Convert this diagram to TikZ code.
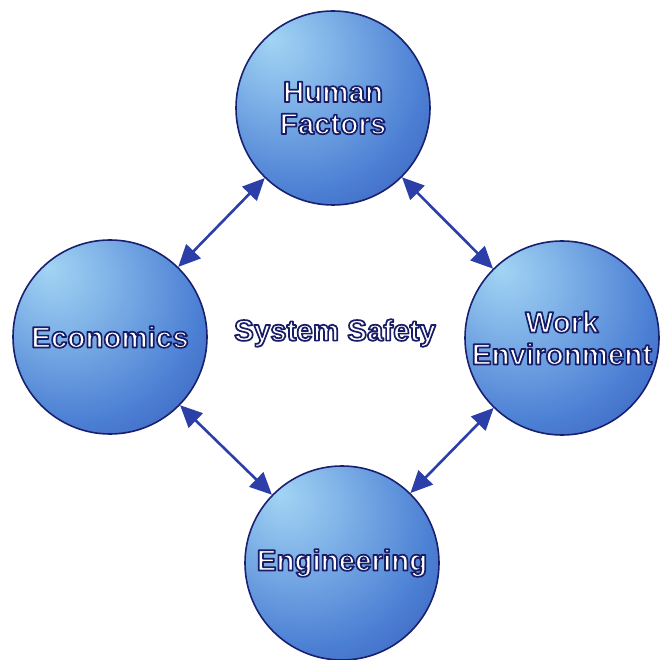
\documentclass[tikz,border=0pt]{standalone}
\usepackage{fontspec}
\setmainfont{Liberation Sans}
\usetikzlibrary{arrows.meta}
\definecolor{rim}{HTML}{1A2070}
\definecolor{arrowblue}{HTML}{2C3EA8}
\definecolor{glow}{HTML}{A2D4F4}
\definecolor{midblue}{HTML}{4C80D4}
\definecolor{deepblue}{HTML}{2A40A8}
\definecolor{edgeblue}{HTML}{1C2884}
\pgfdeclareradialshading{orb}{\pgfpoint{-16bp}{18bp}}{%
  color(0bp)=(glow); color(12bp)=(glow!65!midblue); color(32bp)=(midblue);
  color(56bp)=(deepblue); color(76bp)=(edgeblue)}
% white letters stroked with a navy outline (fill + stroke rendering mode)
\newcommand{\lbl}[1]{{\color{white}%
  \special{pdf:literal direct 2 Tr 1.7 w 1 j 0.1 0.11 0.4 RG}#1%
  \special{pdf:literal direct 0 Tr}}}
\tikzset{
  orbnode/.style={circle, minimum size=194pt, inner sep=0pt, shading=orb,
    draw=rim, line width=1.6pt, align=center,
    font=\fontsize{29.5}{32}\selectfont\bfseries},
  centrelabel/.style={font=\fontsize{29.5}{32}\selectfont\bfseries},
  link/.style={draw=arrowblue, line width=2.6pt,
    {Triangle[length=22pt,width=20pt]}-{Triangle[length=22pt,width=20pt]}}
}
\begin{document}
\begin{tikzpicture}[x=1pt,y=-1pt]
\useasboundingbox (0,0) rectangle (661,660);
\fill[white] (0,0) rectangle (661,660);

\node[orbnode] (hf) at (333,108) {\lbl{Human}\\\lbl{Factors}};
\node[orbnode] (ec) at (110,337) {\lbl{Economics}};
\node[orbnode] (we) at (562,338) {\lbl{Work}\\\lbl{Environment}};
\node[orbnode] (en) at (342,563) {\lbl{Engineering}};

\node[centrelabel] (ss) at (335,333) {\lbl{System Safety}};

\draw[link] (hf) -- (ec);
\draw[link] (hf) -- (we);
\draw[link] (ec) -- (en);
\draw[link] (we) -- (en);
\end{tikzpicture}
\end{document}
